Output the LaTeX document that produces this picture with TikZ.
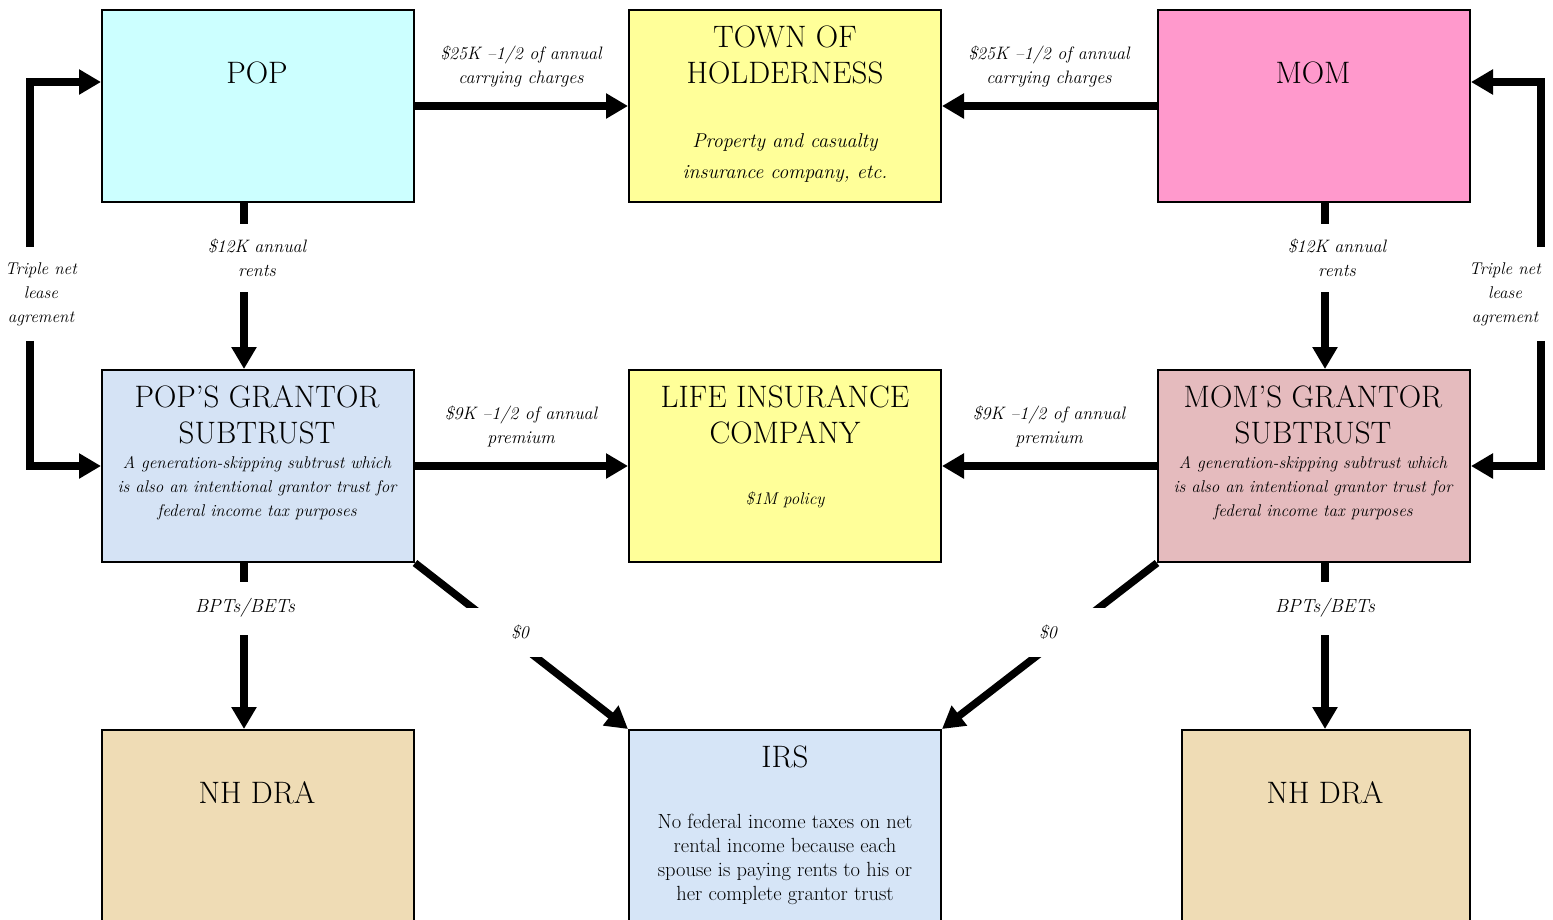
\documentclass[tikz,border=0pt]{standalone}
\usepackage{fontspec}
\usetikzlibrary{arrows.meta,calc}
\definecolor{popc}{HTML}{CCFFFF}
\definecolor{yel}{HTML}{FFFF99}
\definecolor{momc}{HTML}{FF99CC}
\definecolor{ptc}{HTML}{D5E3F5}
\definecolor{mtc}{HTML}{E5BBBE}
\definecolor{nhc}{HTML}{EFDCB5}
\definecolor{irsc}{HTML}{D6E5F7}
\tikzset{
 box/.style={draw=black, line width=2pt, anchor=north west, minimum width=312pt, minimum height=192pt, inner sep=0pt},
 title/.style={font=\fontsize{31}{36}\selectfont, align=center, inner sep=0pt},
 sub/.style={font=\fontsize{17}{24}\selectfont\itshape, align=center, inner sep=0pt},
 lbl/.style={font=\fontsize{18}{24}\selectfont\itshape, align=center, inner sep=0pt},
 gaplbl/.style={lbl, fill=white, inner xsep=4pt, inner ysep=15pt},
 arr/.style={line width=7.5pt, -{Triangle[length=22pt,width=24pt]}},
}
\begin{document}
\begin{tikzpicture}[x=1pt,y=-1pt]
\clip (0,0) rectangle (1553,919);
% boxes
\node[box, fill=popc] (pop) at (101,9) {};
\node[box, fill=yel] (town) at (628,9) {};
\node[box, fill=momc] (mom) at (1157,9) {};
\node[box, fill=ptc] (ptrust) at (101,369) {};
\node[box, fill=yel] (life) at (628,369) {};
\node[box, fill=mtc] (mtrust) at (1157,369) {};
\node[box, fill=nhc, minimum height=240pt] (nhl) at (101,729) {};
\node[box, fill=irsc, minimum height=240pt] (irs) at (628,729) {};
\node[box, fill=nhc, minimum height=240pt, minimum width=288pt] (nhr) at (1181,729) {};
% box texts
\node[title] (popT) at (257,73) {POP};
\node[title] (townT) at (785,55) {TOWN OF\\HOLDERNESS};
\node[title, font=\fontsize{20}{31}\selectfont\itshape] (townS) at (785,158) {Property and casualty\\insurance company, etc.};
\node[title] (momT) at (1313,73) {MOM};
\node[title] (ptT) at (257,415) {POP’S GRANTOR\\SUBTRUST};
\node[sub] (ptS) at (257,488) {A generation-skipping subtrust which\\is also an intentional grantor trust for\\federal income tax purposes};
\node[title] (lifeT) at (785,415) {LIFE INSURANCE\\COMPANY};
\node[sub] (lifeS) at (785,500) {\$1M policy};
\node[title] (mtT) at (1313,415) {MOM’S GRANTOR\\SUBTRUST};
\node[sub] (mtS) at (1313,488) {A generation-skipping subtrust which\\is also an intentional grantor trust for\\federal income tax purposes};
\node[title] (nhlT) at (257,793) {NH DRA};
\node[title] (irsT) at (785,757) {IRS};
\node[title, font=\fontsize{20.5}{24}\selectfont] (irsS) at (785,859) {No federal income taxes on net\\rental income because each\\spouse is paying rents to his or\\her complete grantor trust};
\node[title] (nhrT) at (1325,793) {NH DRA};
% helper x positions
\coordinate (xa) at (244,0);
\coordinate (xb) at (1325,0);
\coordinate (lx) at (30,0);
\coordinate (rx) at (1541,0);
% horizontal arrows
\draw[arr] (pop) -- (town);
\draw[arr] (mom) -- (town);
\draw[arr] (ptrust) -- (life);
\draw[arr] (mtrust) -- (life);
% vertical arrows
\draw[arr] (pop.south -| xa) -- (ptrust.north -| xa);
\draw[arr] (mom.south -| xb) -- (mtrust.north -| xb);
\draw[arr] (ptrust.south -| xa) -- (nhl.north -| xa);
\draw[arr] (mtrust.south -| xb) -- (nhr.north -| xb);
% diagonals
\draw[arr] (ptrust.south east) -- (irs.north west);
\draw[arr] (mtrust.south west) -- (irs.north east);
% loops
\node[lbl, font=\fontsize{17}{24}\selectfont\itshape, inner ysep=15pt] (tripL) at (41,294) {Triple net\\lease\\agrement};
\node[lbl, font=\fontsize{17}{24}\selectfont\itshape, inner ysep=15pt] (tripR) at (1505,294) {Triple net\\lease\\agrement};
\draw[arr] (tripL.north -| lx) |- ($(pop.north west)+(0,73)$);
\draw[arr] (tripL.south -| lx) |- (ptrust.west);
\draw[arr] (tripR.north -| rx) |- ($(mom.north east)+(0,73)$);
\draw[arr] (tripR.south -| rx) |- (mtrust.east);
% labels
\node[lbl] (c1) at (521,67) {\$25K –1/2 of annual\\carrying charges};
\node[lbl] (c2) at (1049,67) {\$25K –1/2 of annual\\carrying charges};
\node[gaplbl] (r1) at (257,258) {\$12K annual\\rents};
\node[gaplbl] (r2) at (1337,258) {\$12K annual\\rents};
\node[lbl] (p1) at (521,426) {\$9K –1/2 of annual\\premium};
\node[lbl] (p2) at (1049,426) {\$9K –1/2 of annual\\premium};
\node[gaplbl, font=\fontsize{19}{24}\selectfont\itshape, inner ysep=17pt] (b1) at (245,608) {BPTs/BETs};
\node[gaplbl, font=\fontsize{19}{24}\selectfont\itshape, inner ysep=17pt] (b2) at (1325,608) {BPTs/BETs};
\node[gaplbl, minimum width=130pt, minimum height=49pt, inner ysep=0pt] (z1) at (520,632) {\$0};
\node[gaplbl, minimum width=130pt, minimum height=49pt, inner ysep=0pt] (z2) at (1048,632) {\$0};
\end{tikzpicture}
\end{document}
